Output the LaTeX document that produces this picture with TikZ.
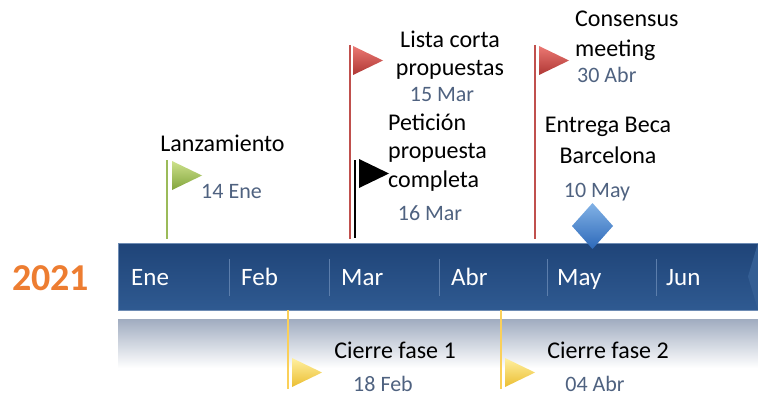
\documentclass[tikz,border=0pt]{standalone}
\usepackage{fontspec}
\setmainfont{Carlito}
\usepackage{tikz}
\usetikzlibrary{positioning}
\definecolor{colordate}{RGB}{79,98,128}
\definecolor{coloryear}{RGB}{237,125,49}
\definecolor{colorbartop}{RGB}{31,68,120}
\definecolor{colorbarbot}{RGB}{47,90,145}
\definecolor{colorbaredge}{RGB}{110,140,180}
\definecolor{colorbartip}{RGB}{52,94,148}
\definecolor{colordivider}{RGB}{92,126,172}
\definecolor{colorshadow}{RGB}{160,172,192}
\definecolor{colorgreen}{RGB}{155,187,89}
\definecolor{colorred}{RGB}{192,80,77}
\definecolor{coloryellow}{RGB}{250,208,90}
\definecolor{colordiamondtop}{RGB}{130,178,230}
\definecolor{colordiamondbot}{RGB}{45,105,185}
\tikzstyle{every node}=[inner sep=0pt]
\tikzstyle{milestone}=[font=\fontsize{24}{29}\selectfont, text=black]
\tikzstyle{datetext}=[font=\fontsize{22}{26}\selectfont, text=colordate, anchor=base]
\tikzstyle{month}=[font=\fontsize{25}{30}\selectfont, text=white, anchor=base west]
\tikzstyle{pole}=[line width=2pt]
\tikzstyle{divider}=[draw=colordivider, line width=0.8pt]
\tikzstyle{flaggreen}=[top color={rgb,255:red,205;green,225;blue,140}, bottom color={rgb,255:red,130;green,165;blue,60}]
\tikzstyle{flagred}=[top color={rgb,255:red,235;green,120;blue,115}, bottom color={rgb,255:red,175;green,55;blue,52}]
\tikzstyle{flagblack}=[fill=black]
\tikzstyle{flagyellow}=[top color={rgb,255:red,255;green,240;blue,160}, bottom color={rgb,255:red,235;green,190;blue,50}]
\newcommand{\flag}[3]{\path[#3] (#1,#2) -- (#1+30,#2+14.5) -- (#1,#2+29) -- cycle;}

\begin{document}
\begin{tikzpicture}[x=1pt, y=-1pt]
	\useasboundingbox (0,0) rectangle (758,396);
	
	% bar and its reflection
	\path[top color=colorshadow, bottom color=white] (118,319) rectangle (758,368);
	\path[top color=colorbartop, bottom color=colorbarbot, draw=colorbaredge, line width=0.6pt] (118,243) rectangle (758,310);
	\fill[colorbartip] (758,243) -- (748,276.5) -- (758,310) -- cycle;
	\draw[divider] (229,259) -- (229,296);
	\draw[divider] (329,259) -- (329,296);
	\draw[divider] (439,259) -- (439,296);
	\draw[divider] (547,259) -- (547,296);
	\draw[divider] (656,259) -- (656,296);
	
	\node[font=\fontsize{38}{44}\selectfont\bfseries, text=coloryear, anchor=base west] at (12,290) (year) {2021};
	
	\node[month] at (131,285) (ene) {Ene};
	\node[month] at (241,285) (feb) {Feb};
	\node[month] at (341,285) (mar) {Mar};
	\node[month] at (451,285) (abr) {Abr};
	\node[month] at (557,285) (may) {May};
	\node[month] at (666,285) (jun) {Jun};
	
	% poles and flags above the bar
	\draw[pole, colorgreen] (167,160) -- (167,239);
	\flag{172}{161}{flaggreen}
	\draw[pole, colorred] (349.5,45) -- (349.5,239);
	\flag{353}{46}{flagred}
	\draw[pole, black] (354.5,160) -- (354.5,238);
	\flag{359}{159}{flagblack}
	\draw[pole, colorred] (534.5,45) -- (534.5,239);
	\flag{539}{46}{flagred}
	
	% poles and flags below the bar
	\draw[pole, coloryellow] (288,310) -- (288,389);
	\flag{292}{358}{flagyellow}
	\draw[pole, coloryellow] (501,310) -- (501,389);
	\flag{505}{358}{flagyellow}
	
	% diamond
	\path[top color=colordiamondtop, bottom color=colordiamondbot] (592.5,203) -- (613,226) -- (592.5,249) -- (572,226) -- cycle;
	
	\node[milestone, anchor=base] at (222.5,151) (lanz) {Lanzamiento};
	\node[datetext] at (231.5,198) (lanzdate) {14 Ene};
	
	\node[milestone, anchor=base, align=center, font=\fontsize{24}{28}\selectfont] at (450,75) (lista) {Lista corta\\propuestas};
	\node[datetext] at (442,102) (listadate) {15 Mar};
	
	\node[milestone, anchor=base west, align=left, font=\fontsize{24}{28.5}\selectfont] at (388,187) (peticion) {Petición\\propuesta\\completa};
	\node[datetext] at (430,220) (peticiondate) {16 Mar};
	
	\node[milestone, anchor=base west, align=left, font=\fontsize{24}{30}\selectfont] at (575,57) (consensus) {Consensus\\meeting};
	\node[datetext, anchor=base west] at (577,82) (consensusdate) {30 Abr};
	
	\node[milestone, anchor=base, align=center, font=\fontsize{24}{31}\selectfont] at (608,163) (entrega) {Entrega Beca\\Barcelona};
	\node[datetext] at (597,197) (entregadate) {10 May};
	
	\node[milestone, anchor=base] at (395,358) (fase1) {Cierre fase 1};
	\node[datetext] at (383,391) (fase1date) {18 Feb};
	
	\node[milestone, anchor=base] at (608,358) (fase2) {Cierre fase 2};
	\node[datetext] at (595,391) (fase2date) {04 Abr};
	
\end{tikzpicture}
\end{document}
